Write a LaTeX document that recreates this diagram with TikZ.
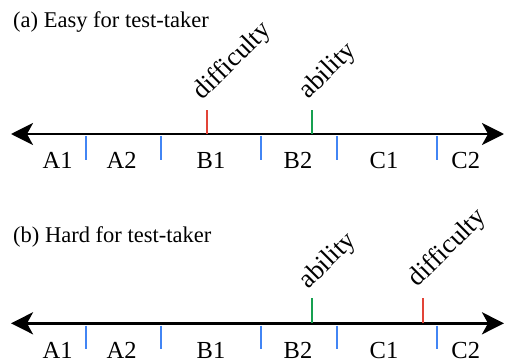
\documentclass[tikz,border=0pt]{standalone}
\usepackage{fontspec}
\setmainfont{Liberation Serif}
\usetikzlibrary{arrows.meta,calc}
\definecolor{tickblue}{RGB}{66,133,244}
\definecolor{tickred}{RGB}{226,68,56}
\definecolor{tickgreen}{RGB}{22,160,80}
\tikzset{
  axisline/.style={line width=2.8pt, {Stealth[length=22pt,width=22pt,inset=6pt]}-{Stealth[length=22pt,width=22pt,inset=6pt]}},
  bluetick/.style={tickblue, line width=1.8pt},
  redtick/.style={tickred, line width=1.8pt},
  greentick/.style={tickgreen, line width=1.8pt},
  seglabel/.style={font=\fontsize{24.5}{28}\selectfont, anchor=base, inner sep=0pt},
  rotlabel/.style={font=\fontsize{26.5}{28}\selectfont, rotate=45, anchor=base west, inner sep=0pt},
  titlelabel/.style={font=\fontsize{22.5}{26}\selectfont, anchor=base west, inner sep=0pt}
}
\begin{document}
\begin{tikzpicture}[x=1pt,y=-1pt]
\useasboundingbox (0,0) rectangle (505,361);
% ---------- (a) ----------
\node[titlelabel] (ta) at (13,28) {(a) Easy for test-taker};
\coordinate (aL) at (11,134);
\coordinate (aR) at (504,134);
\draw[axisline] (aL) -- (aR);
\foreach \x [count=\i] in {86,161.3,261.3,337.3,437.3} {
  \coordinate (ab\i t) at (\x,136);
  \coordinate (ab\i b) at (\x,159.5);
  \draw[bluetick] (ab\i t) -- (ab\i b);
}
\coordinate (adb) at (206.7,134);
\coordinate (adt) at (206.7,110);
\draw[redtick] (adb) -- (adt);
\coordinate (aab) at (311.7,134);
\coordinate (aat) at (311.7,110);
\draw[greentick] (aab) -- (aat);
\node[rotlabel] (adl) at ($(adt)+(-4,-9)$) {difficulty};
\node[rotlabel] (aal) at ($(aat)+(-3,-10)$) {ability};
\node[seglabel] (aA1) at (57.7,168.5) {A1};
\node[seglabel] (aA2) at (121.7,168.5) {A2};
\node[seglabel] (aB1) at (211,168.5) {B1};
\node[seglabel] (aB2) at (298,168.5) {B2};
\node[seglabel] (aC1) at (384,168.5) {C1};
\node[seglabel] (aC2) at (465.7,168.5) {C2};
% ---------- (b) ----------
\node[titlelabel] (tb) at (13,242.3) {(b) Hard for test-taker};
\coordinate (bL) at (11,323.3);
\coordinate (bR) at (504,323.3);
\draw[axisline] (bL) -- (bR);
\foreach \x [count=\i] in {86,161.3,261.3,337.3,437.3} {
  \coordinate (bb\i t) at (\x,325.5);
  \coordinate (bb\i b) at (\x,348.5);
  \draw[bluetick] (bb\i t) -- (bb\i b);
}
\coordinate (bab) at (311.7,323.3);
\coordinate (bat) at (311.7,298);
\draw[greentick] (bab) -- (bat);
\coordinate (bdb) at (422.7,323.3);
\coordinate (bdt) at (422.7,298);
\draw[redtick] (bdb) -- (bdt);
\node[rotlabel] (bal) at ($(bat)+(-3,-8)$) {ability};
\node[rotlabel] (bdl) at ($(bdt)+(-5,-10)$) {difficulty};
\node[seglabel] (bA1) at (57.7,358.5) {A1};
\node[seglabel] (bA2) at (121.7,358.5) {A2};
\node[seglabel] (bB1) at (211,358.5) {B1};
\node[seglabel] (bB2) at (298,358.5) {B2};
\node[seglabel] (bC1) at (384,358.5) {C1};
\node[seglabel] (bC2) at (465.7,358.5) {C2};
\end{tikzpicture}
\end{document}
